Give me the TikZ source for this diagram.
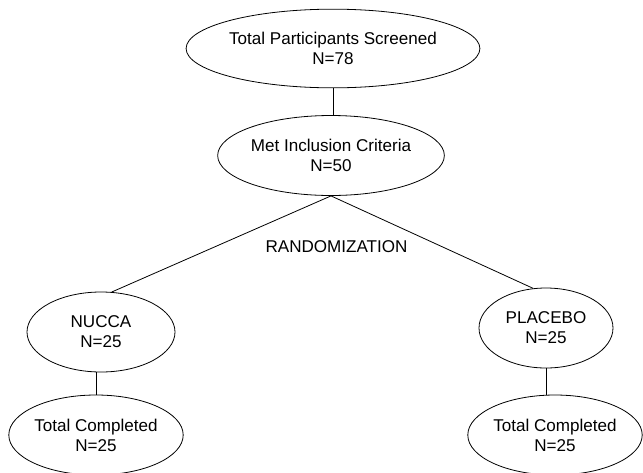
\documentclass[tikz,border=0pt]{standalone}
\usepackage{fontspec}
\setmainfont{Liberation Sans}
\usepackage{tikz}
\usetikzlibrary{shapes.geometric}

\tikzset{
    oval/.style={ellipse, draw, line width=0.6pt, inner sep=0pt, align=center,
        minimum height=60pt, font=\fontsize{12.8}{15}\selectfont},
    link/.style={line width=0.6pt}
}

\begin{document}
\begin{tikzpicture}[x=0.75pt,y=-0.75pt]
        \useasboundingbox (0,0) rectangle (643,472);
        \node[oval, minimum width=181.5pt, minimum height=59pt] (top) at (333,48.5) {Total Participants Screened\\N=78};
        \node[oval, minimum width=150.75pt] (incl) at (331,155.5) {Met Inclusion Criteria\\N=50};
        \node[oval, minimum width=111pt] (nucca) at (101,332) {NUCCA\\N=25};
        \node[oval, minimum width=100.5pt] (placebo) at (546,328) {PLACEBO\\N=25};
        \node[oval, minimum width=120.75pt] (compA) at (96,435) {Total Completed\\N=25};
        \node[oval, minimum width=129pt] (compB) at (555,435) {Total Completed\\N=25};
        \node[font=\fontsize{12.8}{15}\selectfont] (rand) at (336.5,247) {RANDOMIZATION};
        \draw[link] (top.south) -- (top.south |- incl.north);
        \draw[link] (incl.south) -- (nucca.75);
        \draw[link] (incl.south) -- (placebo.108);
        \draw[link] (compA.north) -- (compA.north |- nucca.south);
        \draw[link] (placebo.south) -- (placebo.south |- compB.north);
    \end{tikzpicture}
\end{document}
